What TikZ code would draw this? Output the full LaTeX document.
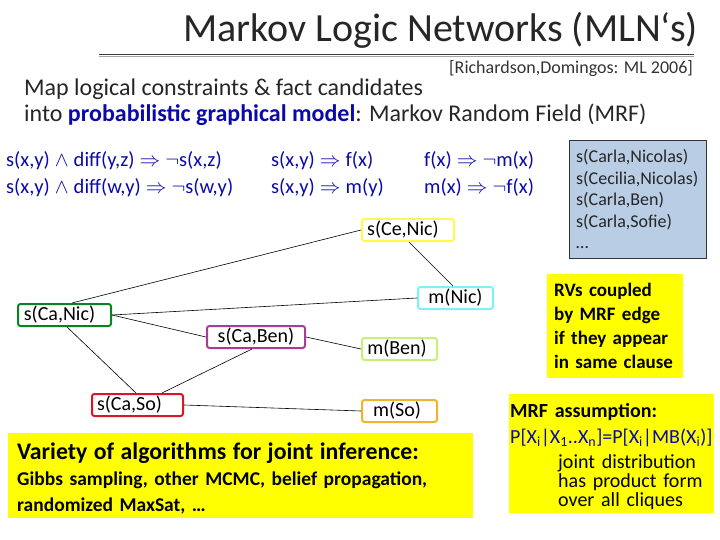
\documentclass[tikz,border=0pt]{standalone}
\usepackage{amsmath}
\usepackage{amssymb}
\usepackage{fontspec}
\setmainfont{Carlito}
\usepackage{tikz}
\definecolor{ruledark}{RGB}{60,60,60}
\definecolor{rulegrey}{RGB}{165,165,165}
\definecolor{clauseblue}{RGB}{10,10,170}
\definecolor{factblue}{RGB}{185,205,229}
\definecolor{hiyellow}{RGB}{255,255,0}
\definecolor{rvyellow}{RGB}{250,250,80}
\definecolor{rvcyan}{RGB}{125,240,250}
\definecolor{rvgreen}{RGB}{10,130,35}
\definecolor{rvpurple}{RGB}{170,60,150}
\definecolor{rvlime}{RGB}{200,240,120}
\definecolor{rvred}{RGB}{220,20,35}
\definecolor{rvorange}{RGB}{240,180,40}
\newcommand{\impl}{\hspace{5pt}$\Rightarrow$\hspace{5pt}}
\newcommand{\nega}{$\neg$}
\newcommand{\conj}{\hspace{5pt}$\wedge$\hspace{5pt}}

\begin{document}
\begin{tikzpicture}[x=1pt,y=-1pt,
			rv/.style={rectangle, rounded corners=2.5pt, line width=2pt, fill=white, minimum width=#1, minimum height=22pt, inner sep=0pt, font=\fontsize{20}{22}\selectfont},
			clause/.style={anchor=north west, inner sep=0pt, text=clauseblue, font=\fontsize{20.5}{27}\selectfont, align=left},
			hibox/.style={rectangle, fill=hiyellow, anchor=north west, align=left, inner sep=0pt},
			edge/.style={black, line width=0.6pt},
			]
			\useasboundingbox (0,0) rectangle (720,540);
			%Nodes
				% heading
				\node[anchor=base west, inner sep=0pt, font=\fontsize{40}{42}\selectfont, text=black!85] (title) at (183,42) {Markov Logic Networks (MLN‘s)};
				\coordinate (ruleL) at (99,54.5);
				\coordinate (ruleR) at (694,54.5);
				\coordinate (ruleLb) at (99,56.5);
				\coordinate (ruleRb) at (694,56.5);
				\node[anchor=base west, inner sep=0pt, font=\fontsize{18}{20}\selectfont, text=black!80] (cite) at (449,74) {[Richardson,Domingos: ML 2006]};
				\node[anchor=north west, inner sep=0pt, align=left, font=\fontsize{24}{26}\selectfont, text=black!85] (intro) at (24,79) {Map logical constraints \& fact candidates\\into \textcolor{clauseblue}{\textbf{probabilistic graphical model}}: Markov Random Field (MRF)};
				% clauses
				\node[clause] (clauseA) at (6,151) {s(x,y)\conj diff(y,z)\impl\nega s(x,z)\\s(x,y)\conj diff(w,y)\impl\nega s(w,y)};
				\node[clause] (clauseB) at (271,151) {s(x,y)\impl f(x)\\s(x,y)\impl m(y)};
				\node[clause] (clauseC) at (424,151) {f(x)\impl\nega m(x)\\m(x)\impl\nega f(x)};
				% facts
				\node[rectangle, draw=black!80, fill=factblue, anchor=north west, minimum width=137pt, minimum height=118pt, inner sep=0pt, inner xsep=7pt, align=left, font=\fontsize{18}{21.5}\selectfont, text=black!85, text width=123pt] (facts) at (569,140) {s(Carla,Nicolas)\\s(Cecilia,Nicolas)\\s(Carla,Ben)\\s(Carla,Sofie)\\…};
				% MRF nodes
				\node[rv=92pt, draw=rvyellow] (ceNic) at (408,230) {s(Ce,Nic)\hspace*{10pt}};
				\node[rv=75pt, draw=rvcyan] (mNic) at (455.5,298) {m(Nic)};
				\node[rv=93pt, draw=rvgreen] (caNic) at (64.5,315) {s(Ca,Nic)\hspace*{10pt}};
				\node[rv=98pt, draw=rvpurple] (caBen) at (256,337) {s(Ca,Ben)};
				\node[rv=75pt, draw=rvlime] (mBen) at (399.5,349) {m(Ben)\hspace*{5pt}};
				\node[rv=91pt, draw=rvred] (caSo) at (137.5,405) {s(Ca,So)\hspace*{16pt}};
				\node[rv=75pt, draw=rvorange] (mSo) at (399.5,411) {m(So)\hspace*{5pt}};
				% attachment points on the node borders
				\coordinate (caNicTop) at (72,303);
				\coordinate (caNicLow) at (67,327);
				\coordinate (ceNicLow) at (409,242);
				\coordinate (mNicTop) at (453,286);
				\coordinate (caSoTopA) at (136,393);
				\coordinate (caSoTopB) at (162,393);
				\coordinate (caBenLow) at (252,349);
				% notes
				\node[hibox, minimum width=136pt, minimum height=104pt, inner xsep=7pt, font=\bfseries\fontsize{19}{24}\selectfont, text width=122pt] (coupled) at (547,274) {RVs coupled\\by MRF edge\\if they appear\\in same clause};
				\node[hibox, minimum width=465pt, minimum height=85pt, inner xsep=9pt, text width=447pt, font=\fontsize{19.5}{26}\selectfont] (variety) at (8,433) {\rule{0pt}{22pt}{\bfseries\fontsize{23.8}{26}\selectfont Variety of algorithms for joint inference:}\\\textbf{Gibbs sampling, other MCMC, belief propagation,}\\\textbf{randomized MaxSat, …}};
				\node[hibox, minimum width=205pt, minimum height=119pt, inner xsep=1pt, text width=203pt, font=\fontsize{20}{19}\selectfont] (assume) at (509,394) {\rule{0pt}{20pt}\textbf{MRF assumption:}\\[7pt]\textcolor{clauseblue}{P[X\textsubscript{i}|X\textsubscript{1}..X\textsubscript{n}]=P[X\textsubscript{i}|MB(X\textsubscript{i})]}\\[6pt]\hspace*{48pt}joint distribution\\\hspace*{48pt}has product form\\\hspace*{48pt}over all cliques};

			%Lines
				% rule under heading
				\draw[ruledark, line width=1pt] (ruleL) -- (ruleR);
				\draw[rulegrey, line width=1pt] (ruleLb) -- (ruleRb);
				% MRF edges
				\draw[edge] (caNicTop) -- (ceNic.west);
				\draw[edge] (ceNicLow) -- (mNicTop);
				\draw[edge] (caNic.east) -- (mNic.west);
				\draw[edge] (caNic.east) -- (caBen.west);
				\draw[edge] (caBen.east) -- (mBen.west);
				\draw[edge] (caNicLow) -- (caSoTopA);
				\draw[edge] (caSoTopB) -- (caBenLow);
				\draw[edge] (caSo.east) -- (mSo.west);
		\end{tikzpicture}
\end{document}
